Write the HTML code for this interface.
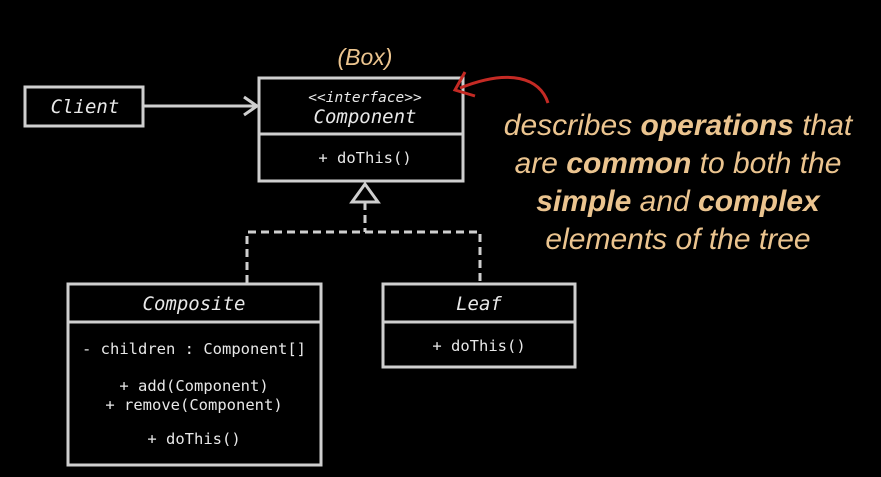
<!DOCTYPE html>
<html><head><meta charset="utf-8"><style>
html,body{margin:0;padding:0;background:#000;}
svg{display:block}
.m{font-family:"DejaVu Sans Mono","Liberation Mono",monospace;fill:#e8e8e8}
.o{font-family:"Liberation Sans",sans-serif;font-style:italic;fill:#ebc48f;font-size:30px}
</style></head><body>
<svg width="881" height="477" viewBox="0 0 881 477">
<rect width="881" height="477" fill="#000"/>
<g fill="none" stroke="#cfcfcf" stroke-width="3">
<rect x="25" y="87" width="118" height="39"/>
<line x1="143" y1="106" x2="256" y2="106"/>
<polyline points="244,97 257,106 244,115"/>
<rect x="259" y="78" width="204" height="103"/>
<line x1="259" y1="134" x2="463" y2="134"/>
<polygon points="365,184 352,202 378,202"/>
<g stroke-dasharray="8,5">
<line x1="365" y1="202" x2="365" y2="232"/>
<polyline points="247,283 247,232 480,232 480,283"/>
</g>
<rect x="68" y="284" width="253" height="181"/>
<line x1="68" y1="322" x2="321" y2="322"/>
<rect x="383" y="284" width="192" height="83"/>
<line x1="383" y1="322" x2="575" y2="322"/>
</g>
<path d="M548,103 C540,78 510,68 460,88" fill="none" stroke="#c42a24" stroke-width="3"/>
<polyline points="465,72 455,90 475,96" fill="none" stroke="#c42a24" stroke-width="3"/>
<text x="365" y="65" text-anchor="middle" class="o" style="font-size:23px">(Box)</text>
<text x="85" y="113" text-anchor="middle" class="m" style="font-size:19px;font-style:italic">Client</text>
<text x="365" y="102" text-anchor="middle" class="m" style="font-size:14.5px;font-style:italic">&lt;&lt;interface&gt;&gt;</text>
<text x="365" y="123" text-anchor="middle" class="m" style="font-size:19px;font-style:italic">Component</text>
<text x="365" y="163" text-anchor="middle" class="m" style="font-size:15.5px">+ doThis()</text>
<text x="194" y="310" text-anchor="middle" class="m" style="font-size:19px;font-style:italic">Composite</text>
<text x="194" y="354" text-anchor="middle" class="m" style="font-size:15.5px">- children : Component[]</text>
<text x="194" y="391" text-anchor="middle" class="m" style="font-size:15.5px">+ add(Component)</text>
<text x="194" y="410" text-anchor="middle" class="m" style="font-size:15.5px">+ remove(Component)</text>
<text x="194" y="444" text-anchor="middle" class="m" style="font-size:15.5px">+ doThis()</text>
<text x="479" y="310" text-anchor="middle" class="m" style="font-size:19px;font-style:italic">Leaf</text>
<text x="479" y="351" text-anchor="middle" class="m" style="font-size:15.5px">+ doThis()</text>
<text x="678" y="135" text-anchor="middle" class="o">describes <tspan font-weight="bold">operations</tspan> that</text>
<text x="678" y="173" text-anchor="middle" class="o">are <tspan font-weight="bold">common</tspan> to both the</text>
<text x="678" y="211" text-anchor="middle" class="o"><tspan font-weight="bold">simple</tspan> and <tspan font-weight="bold">complex</tspan></text>
<text x="678" y="249" text-anchor="middle" class="o">elements of the tree</text>
</svg>
</body></html>
